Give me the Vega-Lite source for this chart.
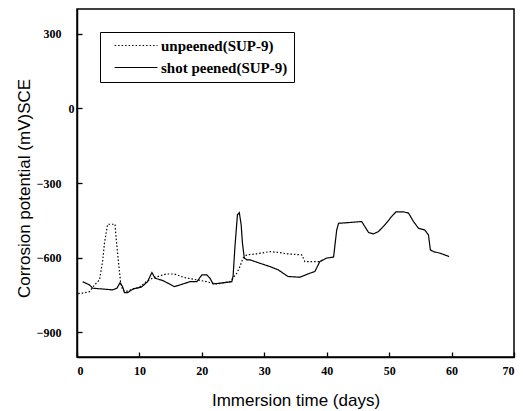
{
  "$schema": "https://vega.github.io/schema/vega-lite/v6.json",
  "width": 437,
  "height": 348,
  "autosize": "none",
  "padding": {"left": 77, "top": 9, "right": 13, "bottom": 54},
  "background": "white",
  "config": {
    "view": {"stroke": "black", "strokeWidth": 1.5},
    "axis": {
      "domainColor": "black", "domainWidth": 1.5,
      "tickColor": "black", "tickSize": -5, "tickWidth": 1.3,
      "grid": false,
      "labelFont": "Liberation Serif", "labelFontWeight": "bold", "labelFontSize": 12, "labelColor": "black",
      "titleFont": "Liberation Sans", "titleFontWeight": "normal", "titleFontSize": 17, "titleColor": "black"
    }
  },
  "data": {"values": [
    {"series": "unpeened(SUP-9)", "day": 0.2, "mV": -745},
    {"series": "unpeened(SUP-9)", "day": 0.9, "mV": -743},
    {"series": "unpeened(SUP-9)", "day": 2.0, "mV": -737},
    {"series": "unpeened(SUP-9)", "day": 2.8, "mV": -710},
    {"series": "unpeened(SUP-9)", "day": 3.6, "mV": -690},
    {"series": "unpeened(SUP-9)", "day": 4.1, "mV": -616},
    {"series": "unpeened(SUP-9)", "day": 4.4, "mV": -542},
    {"series": "unpeened(SUP-9)", "day": 4.9, "mV": -466},
    {"series": "unpeened(SUP-9)", "day": 6.1, "mV": -466},
    {"series": "unpeened(SUP-9)", "day": 6.2, "mV": -502},
    {"series": "unpeened(SUP-9)", "day": 6.5, "mV": -582},
    {"series": "unpeened(SUP-9)", "day": 6.8, "mV": -656},
    {"series": "unpeened(SUP-9)", "day": 7.0, "mV": -703},
    {"series": "unpeened(SUP-9)", "day": 7.3, "mV": -730},
    {"series": "unpeened(SUP-9)", "day": 7.8, "mV": -737},
    {"series": "unpeened(SUP-9)", "day": 8.9, "mV": -727},
    {"series": "unpeened(SUP-9)", "day": 10.0, "mV": -719},
    {"series": "unpeened(SUP-9)", "day": 11.1, "mV": -697},
    {"series": "unpeened(SUP-9)", "day": 12.1, "mV": -683},
    {"series": "unpeened(SUP-9)", "day": 13.2, "mV": -674},
    {"series": "unpeened(SUP-9)", "day": 14.3, "mV": -666},
    {"series": "unpeened(SUP-9)", "day": 15.6, "mV": -666},
    {"series": "unpeened(SUP-9)", "day": 17.0, "mV": -679},
    {"series": "unpeened(SUP-9)", "day": 18.6, "mV": -687},
    {"series": "unpeened(SUP-9)", "day": 20.8, "mV": -697},
    {"series": "unpeened(SUP-9)", "day": 21.6, "mV": -703},
    {"series": "unpeened(SUP-9)", "day": 22.4, "mV": -706},
    {"series": "unpeened(SUP-9)", "day": 24.5, "mV": -697},
    {"series": "unpeened(SUP-9)", "day": 25.6, "mV": -663},
    {"series": "unpeened(SUP-9)", "day": 26.1, "mV": -636},
    {"series": "unpeened(SUP-9)", "day": 26.6, "mV": -602},
    {"series": "unpeened(SUP-9)", "day": 27.2, "mV": -589},
    {"series": "unpeened(SUP-9)", "day": 28.8, "mV": -585},
    {"series": "unpeened(SUP-9)", "day": 30.9, "mV": -576},
    {"series": "unpeened(SUP-9)", "day": 32.5, "mV": -580},
    {"series": "unpeened(SUP-9)", "day": 33.6, "mV": -585},
    {"series": "unpeened(SUP-9)", "day": 36.0, "mV": -589},
    {"series": "unpeened(SUP-9)", "day": 36.5, "mV": -616},
    {"series": "unpeened(SUP-9)", "day": 38.9, "mV": -616},
    {"series": "unpeened(SUP-9)", "day": 39.5, "mV": -609},
    {"series": "shot peened(SUP-9)", "day": 0.9, "mV": -697},
    {"series": "shot peened(SUP-9)", "day": 2.0, "mV": -710},
    {"series": "shot peened(SUP-9)", "day": 2.5, "mV": -723},
    {"series": "shot peened(SUP-9)", "day": 5.7, "mV": -730},
    {"series": "shot peened(SUP-9)", "day": 6.4, "mV": -723},
    {"series": "shot peened(SUP-9)", "day": 6.9, "mV": -701},
    {"series": "shot peened(SUP-9)", "day": 7.3, "mV": -717},
    {"series": "shot peened(SUP-9)", "day": 7.6, "mV": -741},
    {"series": "shot peened(SUP-9)", "day": 8.1, "mV": -741},
    {"series": "shot peened(SUP-9)", "day": 9.0, "mV": -726},
    {"series": "shot peened(SUP-9)", "day": 10.3, "mV": -719},
    {"series": "shot peened(SUP-9)", "day": 11.3, "mV": -697},
    {"series": "shot peened(SUP-9)", "day": 12.0, "mV": -660},
    {"series": "shot peened(SUP-9)", "day": 12.5, "mV": -683},
    {"series": "shot peened(SUP-9)", "day": 13.7, "mV": -692},
    {"series": "shot peened(SUP-9)", "day": 14.8, "mV": -706},
    {"series": "shot peened(SUP-9)", "day": 15.6, "mV": -717},
    {"series": "shot peened(SUP-9)", "day": 16.5, "mV": -710},
    {"series": "shot peened(SUP-9)", "day": 18.1, "mV": -697},
    {"series": "shot peened(SUP-9)", "day": 19.2, "mV": -697},
    {"series": "shot peened(SUP-9)", "day": 20.0, "mV": -670},
    {"series": "shot peened(SUP-9)", "day": 20.8, "mV": -670},
    {"series": "shot peened(SUP-9)", "day": 21.3, "mV": -683},
    {"series": "shot peened(SUP-9)", "day": 21.8, "mV": -706},
    {"series": "shot peened(SUP-9)", "day": 22.9, "mV": -703},
    {"series": "shot peened(SUP-9)", "day": 24.8, "mV": -697},
    {"series": "shot peened(SUP-9)", "day": 25.0, "mV": -676},
    {"series": "shot peened(SUP-9)", "day": 25.3, "mV": -556},
    {"series": "shot peened(SUP-9)", "day": 25.7, "mV": -428},
    {"series": "shot peened(SUP-9)", "day": 26.0, "mV": -419},
    {"series": "shot peened(SUP-9)", "day": 26.3, "mV": -469},
    {"series": "shot peened(SUP-9)", "day": 26.5, "mV": -542},
    {"series": "shot peened(SUP-9)", "day": 26.8, "mV": -602},
    {"series": "shot peened(SUP-9)", "day": 27.2, "mV": -609},
    {"series": "shot peened(SUP-9)", "day": 27.7, "mV": -609},
    {"series": "shot peened(SUP-9)", "day": 29.3, "mV": -623},
    {"series": "shot peened(SUP-9)", "day": 30.9, "mV": -636},
    {"series": "shot peened(SUP-9)", "day": 32.2, "mV": -649},
    {"series": "shot peened(SUP-9)", "day": 33.8, "mV": -676},
    {"series": "shot peened(SUP-9)", "day": 35.7, "mV": -679},
    {"series": "shot peened(SUP-9)", "day": 37.3, "mV": -663},
    {"series": "shot peened(SUP-9)", "day": 38.1, "mV": -656},
    {"series": "shot peened(SUP-9)", "day": 38.9, "mV": -616},
    {"series": "shot peened(SUP-9)", "day": 40.0, "mV": -602},
    {"series": "shot peened(SUP-9)", "day": 41.1, "mV": -598},
    {"series": "shot peened(SUP-9)", "day": 41.6, "mV": -489},
    {"series": "shot peened(SUP-9)", "day": 41.9, "mV": -462},
    {"series": "shot peened(SUP-9)", "day": 43.7, "mV": -459},
    {"series": "shot peened(SUP-9)", "day": 45.6, "mV": -455},
    {"series": "shot peened(SUP-9)", "day": 46.1, "mV": -475},
    {"series": "shot peened(SUP-9)", "day": 46.7, "mV": -499},
    {"series": "shot peened(SUP-9)", "day": 47.5, "mV": -505},
    {"series": "shot peened(SUP-9)", "day": 48.3, "mV": -495},
    {"series": "shot peened(SUP-9)", "day": 49.3, "mV": -469},
    {"series": "shot peened(SUP-9)", "day": 50.4, "mV": -435},
    {"series": "shot peened(SUP-9)", "day": 51.1, "mV": -416},
    {"series": "shot peened(SUP-9)", "day": 52.3, "mV": -416},
    {"series": "shot peened(SUP-9)", "day": 53.1, "mV": -421},
    {"series": "shot peened(SUP-9)", "day": 53.9, "mV": -455},
    {"series": "shot peened(SUP-9)", "day": 54.7, "mV": -482},
    {"series": "shot peened(SUP-9)", "day": 55.7, "mV": -489},
    {"series": "shot peened(SUP-9)", "day": 56.3, "mV": -509},
    {"series": "shot peened(SUP-9)", "day": 56.6, "mV": -569},
    {"series": "shot peened(SUP-9)", "day": 57.1, "mV": -576},
    {"series": "shot peened(SUP-9)", "day": 58.1, "mV": -582},
    {"series": "shot peened(SUP-9)", "day": 59.2, "mV": -592},
    {"series": "shot peened(SUP-9)", "day": 59.6, "mV": -596}
  ]},
  "mark": {"type": "line", "color": "black", "strokeWidth": 1.2},
  "encoding": {
    "x": {
      "field": "day", "type": "quantitative",
      "scale": {"domain": [0, 70], "nice": false, "zero": false},
      "axis": {"values": [0, 10, 20, 30, 40, 50, 60, 70], "labelPadding": 13, "title": "Immersion time (days)", "titlePadding": 16}
    },
    "y": {
      "field": "mV", "type": "quantitative",
      "scale": {"domain": [-1000, 400], "nice": false, "zero": false},
      "axis": {
        "values": [-900, -600, -300, 0, 300],
        "labelPadding": {"condition": {"test": "datum.value == 0", "value": 8}, "value": 21},
        "title": "Corrosion potential (mV)SCE",
        "titleX": -53, "titleY": 179, "titleAngle": -90, "titleBaseline": "middle", "titleAlign": "center"
      }
    },
    "strokeDash": {
      "field": "series", "type": "nominal",
      "scale": {"domain": ["unpeened(SUP-9)", "shot peened(SUP-9)"], "range": [[1.5, 2], [1, 0]]},
      "legend": {
        "title": null, "orient": "none", "legendX": 23, "legendY": 23,
        "strokeColor": "black", "fillColor": "white",
        "padding": 6,
        "symbolType": "M0.2,0H8", "symbolSize": 121, "symbolStrokeWidth": 1.2, "symbolStrokeColor": "black",
        "labelFont": "Liberation Serif", "labelFontSize": 15, "labelFontWeight": "bold", "labelColor": "black",
        "labelExpr": "datum.label + '        '",
        "labelOffset": 40, "rowPadding": 6
      }
    }
  }
}
